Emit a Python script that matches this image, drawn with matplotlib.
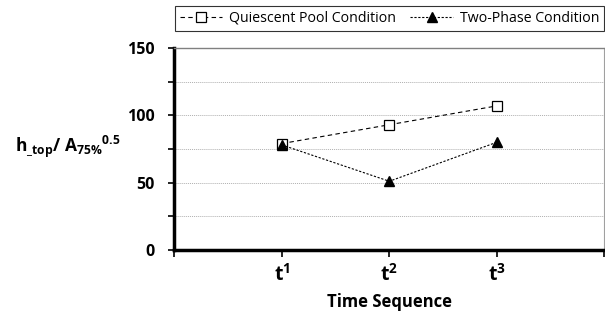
import matplotlib
matplotlib.use("Agg")
import matplotlib.pyplot as plt
from matplotlib.ticker import MultipleLocator

plt.rcParams['font.family'] = ['Open Sans', 'DejaVu Sans']
plt.rcParams['mathtext.fontset'] = 'custom'
plt.rcParams['mathtext.rm'] = 'Open Sans:bold'
plt.rcParams['mathtext.it'] = 'Open Sans:bold'
plt.rcParams['mathtext.bf'] = 'Open Sans:bold'

# datos
tiempos = [1, 2, 3]
etiquetas_t = ["t$^{1}$", "t$^{2}$", "t$^{3}$"]
quiescent = [79, 93, 107]
two_phase = [78, 51, 80]

fig = plt.figure(figsize=(6.05, 3.2), dpi=100)
ax = fig.add_axes([0.288, 0.219, 0.711, 0.631])

ax.plot(tiempos, quiescent, linestyle=(0, (4, 3)), color='black', linewidth=0.8,
        marker='s', markersize=7, markerfacecolor='white', markeredgecolor='black',
        markeredgewidth=0.9, label='Quiescent Pool Condition')
ax.plot(tiempos, two_phase, linestyle=(0, (2, 1.5)), color='black', linewidth=0.8,
        marker='^', markersize=7, markerfacecolor='black', markeredgecolor='black',
        label='Two-Phase Condition')

ax.set_xlim(0, 4)
ax.set_ylim(0, 150)
ax.set_xticks([0, 1, 2, 3, 4])
ax.set_xticklabels([""] + etiquetas_t + [""], fontsize=14, fontweight='bold')
ax.set_yticks([0, 50, 100, 150])
ax.yaxis.set_minor_locator(MultipleLocator(25))
ax.tick_params(axis='y', which='both', direction='out', length=4, width=1.2,
               labelsize=11.5, pad=10)
ax.tick_params(axis='x', direction='out', length=5, width=1.2, pad=5)
for lab in ax.get_yticklabels():
    lab.set_fontweight('bold')

# grilla punteada
for y in [25, 50, 75, 100, 125]:
    ax.axhline(y, color='#b0b0b0', linestyle=(0, (1, 1)), linewidth=0.7, zorder=0)

ax.spines['left'].set_linewidth(2.5)
ax.spines['bottom'].set_linewidth(2.5)
ax.spines['top'].set_color('#808080')
ax.spines['top'].set_linewidth(1.0)
ax.spines['right'].set_color('#a0a0a0')
ax.spines['right'].set_linewidth(0.8)

ax.set_xlabel("Time Sequence", fontsize=12, fontweight='bold', labelpad=5)
fig.text(0.025, 0.54, r"h$_{\_top}$/ A$_{75\%}$$^{0.5}$",
         fontsize=12.5, fontweight='bold', ha='left', va='center')

leg = ax.legend(loc='lower right', bbox_to_anchor=(1.0, 1.085), ncol=2,
                frameon=True, fancybox=False, fontsize=10.2, handlelength=3,
                columnspacing=1.0, handletextpad=0.5, borderpad=0.35,
                borderaxespad=0)
leg.get_frame().set_edgecolor('black')
leg.get_frame().set_linewidth(0.8)

plt.savefig("out.png", dpi=100)
